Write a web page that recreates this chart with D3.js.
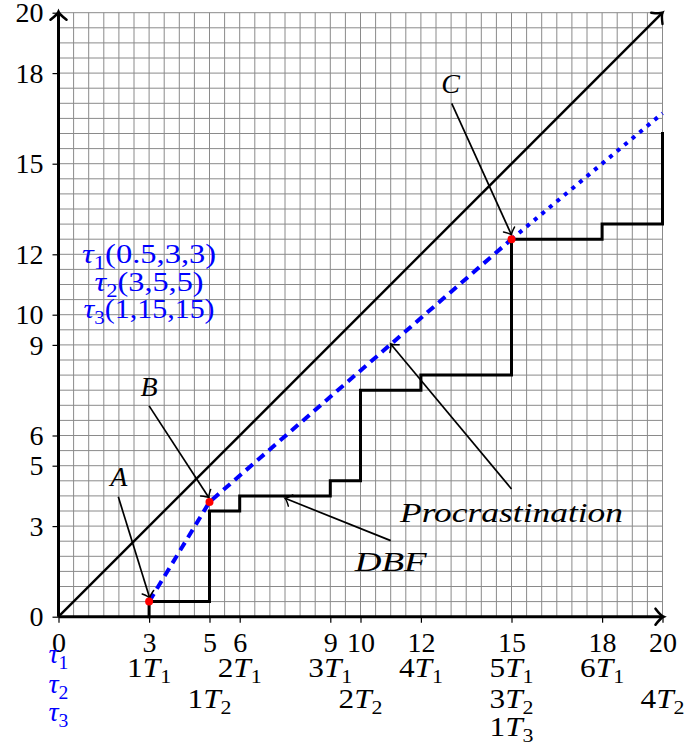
<!DOCTYPE html>
<html><head><meta charset="utf-8">
<script src="https://cdn.jsdelivr.net/npm/d3@7"></script>
<style>html,body{margin:0;padding:0;background:#fff;} svg{display:block}</style>
</head><body>
<svg id="chart" width="686" height="747"></svg>
<script>
// ---------- data ----------
const xTicks = [0, 3, 5, 6, 9, 10, 12, 15, 18, 20];
const yTicks = [0, 3, 5, 6, 9, 10, 12, 15, 18, 20];
// job release labels: [x, count, task index]
const jobLabels = [
  [3, 1, 1], [6, 2, 1], [9, 3, 1], [12, 4, 1], [15, 5, 1], [18, 6, 1],
  [5, 1, 2], [10, 2, 2], [15, 3, 2], [20, 4, 2],
  [15, 1, 3]
];
const taskNames = ["1", "2", "3"];
const taskParams = [[0.5, 3, 3], [3, 5, 5], [1, 15, 15]];
const dbfSteps = [[3, 0], [3, 0.5], [5, 0.5], [5, 3.5], [6, 3.5], [6, 4], [9, 4], [9, 4.5],
  [10, 4.5], [10, 7.5], [12, 7.5], [12, 8], [15, 8], [15, 12.5], [18, 12.5], [18, 13],
  [20, 13], [20, 16]];
const identity = [[0, 0], [20, 20]];
const procrastination = [[3, 0.5], [5, 3.8], [15, 12.5]];
const procrastinationLate = [[15, 12.5], [20, 16.67]];
const points = [{ name: "A", x: 3, y: 0.5 }, { name: "B", x: 5, y: 3.8 }, { name: "C", x: 15, y: 12.5 }];
const annotations = [
  { label: "A", lx: 2.0, ly: 4.33, from: [1.98, 3.97], to: [3.02, 0.62] },
  { label: "B", lx: 3.0, ly: 7.31, from: [3.0, 6.98], to: [4.98, 3.94] },
  { label: "C", lx: 12.98, ly: 17.34, from: [13.02, 17.0], to: [15.0, 12.64] },
  { label: "Procrastination", lx: 15.0, ly: 3.15, from: [15.0, 4.23], to: [11.0, 9.03], w: 223 },
  { label: "DBF", lx: 11.0, ly: 1.52, from: [11.0, 2.52], to: [7.5, 3.92], w: 72 }
];

// ---------- setup ----------
const svg = d3.select("#chart");
const x = d3.scaleLinear().domain([0, 20]).range([58.5, 662.5]);
const y = d3.scaleLinear().domain([0, 20]).range([616.7, 12.7]);
const FONT = "'Liberation Serif', 'Times New Roman', serif";
const FS = 28;
const BLUE = "#0000ff";

// grid
const gridVals = d3.range(0, 20.01, 0.5);
const grid = svg.append("g").attr("stroke", "#8a8a8a").attr("stroke-width", 1);
grid.selectAll("line.v").data(gridVals).join("line").attr("class", "v")
  .attr("x1", d => x(d)).attr("x2", d => x(d)).attr("y1", y(0)).attr("y2", y(20));
grid.selectAll("line.h").data(gridVals).join("line").attr("class", "h")
  .attr("y1", d => y(d)).attr("y2", d => y(d)).attr("x1", x(0)).attr("x2", x(20));

// arrowhead helper
function arrowHead(g, tip, from, L, W, sw) {
  const dx = tip[0] - from[0], dy = tip[1] - from[1];
  const len = Math.hypot(dx, dy);
  const ux = dx / len, uy = dy / len, nx = -uy, ny = ux;
  const bx = tip[0] - ux * L, by = tip[1] - uy * L;
  const c1 = [tip[0] - ux * L * 0.35 + nx * W * 0.15, tip[1] - uy * L * 0.35 + ny * W * 0.15];
  const c2 = [tip[0] - ux * L * 0.35 - nx * W * 0.15, tip[1] - uy * L * 0.35 - ny * W * 0.15];
  g.append("path")
    .attr("d", `M${bx + nx * W},${by + ny * W} Q${c1[0]},${c1[1]} ${tip[0]},${tip[1]} Q${c2[0]},${c2[1]} ${bx - nx * W},${by - ny * W}`)
    .attr("fill", "none").attr("stroke", "#000").attr("stroke-width", sw).attr("stroke-linecap", "round");
}

const line = d3.line().x(d => x(d[0])).y(d => y(d[1]));

// identity diagonal
svg.append("path").attr("d", line(identity)).attr("fill", "none").attr("stroke", "#000").attr("stroke-width", 2.4);
arrowHead(svg, [x(20), y(20)], [x(0), y(0)], 8, 8, 2.4);

// DBF step line
svg.append("path").attr("d", line(dbfSteps)).attr("fill", "none").attr("stroke", "#000")
  .attr("stroke-width", 3).attr("stroke-linejoin", "miter").attr("stroke-linecap", "square");

// axes
const axes = svg.append("g");
axes.append("line").attr("x1", x(0)).attr("x2", x(20)).attr("y1", y(0)).attr("y2", y(0))
  .attr("stroke", "#000").attr("stroke-width", 3);
axes.append("line").attr("x1", x(0)).attr("x2", x(0)).attr("y1", y(0)).attr("y2", y(20))
  .attr("stroke", "#000").attr("stroke-width", 3);
arrowHead(axes, [x(20) + 1, y(0)], [x(0), y(0)], 8, 8, 2.6);
arrowHead(axes, [x(0), y(20) - 1], [x(0), y(0)], 8, 8, 2.6);

// ticks via d3 axis
const xAxis = d3.axisBottom(x).tickValues(xTicks).tickSize(6).tickFormat(d3.format("d"));
const gx = svg.append("g").attr("transform", `translate(0,${y(0)})`).call(xAxis);
gx.select(".domain").remove();
gx.selectAll(".tick line").attr("stroke", "#000").attr("stroke-width", 1.2);
gx.selectAll(".tick text").attr("font-family", FONT).attr("font-size", FS).attr("fill", "#000")
  .attr("y", 35).attr("dy", null);

const yAxis = d3.axisLeft(y).tickValues(yTicks).tickSize(6).tickFormat(d3.format("d"));
const gy = svg.append("g").attr("transform", `translate(${x(0)},0)`).call(yAxis);
gy.select(".domain").remove();
gy.selectAll(".tick line").attr("stroke", "#000").attr("stroke-width", 1.2);
gy.selectAll(".tick text").attr("font-family", FONT).attr("font-size", FS).attr("fill", "#000")
  .attr("x", -15).attr("dy", "0.33em");

// job release labels
const rowBase = [60, 91, 119];
const jl = svg.append("g").attr("font-family", FONT).attr("font-size", FS).attr("fill", "#000");
jobLabels.forEach(([xv, n, t]) => {
  const tx = jl.append("text").attr("x", x(xv)).attr("y", y(0) + rowBase[t - 1])
    .attr("text-anchor", "middle").attr("textLength", 44).attr("lengthAdjust", "spacingAndGlyphs");
  tx.append("tspan").text(n);
  tx.append("tspan").attr("font-style", "italic").text("T");
  tx.append("tspan").attr("font-size", FS * 0.7).attr("dy", 6).text(taskNames[t - 1]);
});

// task names under the origin (blue)
const tl = svg.append("g").attr("font-family", FONT).attr("font-size", FS).attr("fill", BLUE);
const taskRow = [46, 76, 104];
taskNames.forEach((nm, i) => {
  const tx = tl.append("text").attr("x", x(0)).attr("y", y(0) + taskRow[i]).attr("text-anchor", "middle");
  tx.append("tspan").attr("font-style", "italic").text("τ");
  tx.append("tspan").attr("font-size", FS * 0.7).attr("dy", 6).text(nm);
});

// task parameter legend (blue)
const legRows = [11.7, 10.78, 9.9];
const legW = [134, 109, 131];
taskParams.forEach((p, i) => {
  const tx = tl.append("text").attr("x", x(3)).attr("y", y(legRows[i])).attr("text-anchor", "middle")
    .attr("textLength", legW[i]).attr("lengthAdjust", "spacingAndGlyphs");
  tx.append("tspan").attr("font-style", "italic").text("τ");
  tx.append("tspan").attr("font-size", FS * 0.7).attr("dy", 6).text(taskNames[i]);
  tx.append("tspan").attr("dy", -6).text("(" + p.join(",") + ")");
});

// procrastination line
svg.append("path").attr("d", line(procrastination)).attr("fill", "none").attr("stroke", BLUE)
  .attr("stroke-width", 4).attr("stroke-dasharray", "9,6");
svg.append("path").attr("d", line(procrastinationLate)).attr("fill", "none").attr("stroke", BLUE)
  .attr("stroke-width", 4).attr("stroke-dasharray", "4,5.8");

// annotations
const ann = svg.append("g");
annotations.forEach(a => {
  const p0 = [x(a.from[0]), y(a.from[1])], p1 = [x(a.to[0]), y(a.to[1])];
  ann.append("line").attr("x1", p0[0]).attr("y1", p0[1]).attr("x2", p1[0]).attr("y2", p1[1])
    .attr("stroke", "#000").attr("stroke-width", 1.7);
  arrowHead(ann, p1, p0, 6, 6, 1.5);
  const t = ann.append("text").attr("x", x(a.lx)).attr("y", y(a.ly)).attr("text-anchor", "middle")
    .attr("font-family", FONT).attr("font-size", FS).attr("font-style", "italic").text(a.label);
  if (a.w) t.attr("textLength", a.w).attr("lengthAdjust", "spacingAndGlyphs");
});

// red points
svg.append("g").selectAll("circle").data(points).join("circle")
  .attr("cx", d => x(d.x)).attr("cy", d => y(d.y)).attr("r", 4).attr("fill", "#ff0000");
</script>
</body></html>
